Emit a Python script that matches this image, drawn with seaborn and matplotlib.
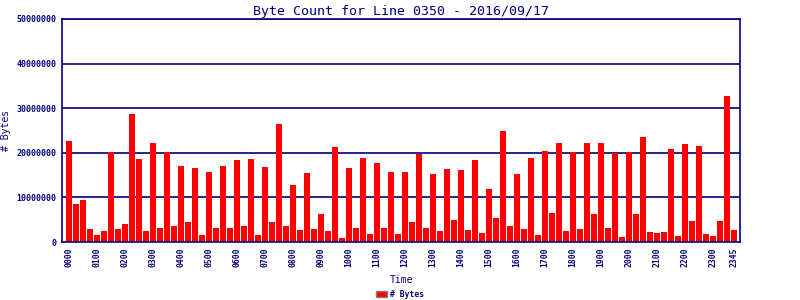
import matplotlib
matplotlib.use("Agg")
import matplotlib.pyplot as plt
import seaborn as sns
import pandas as pd
import numpy as np
from matplotlib.patches import Patch

# ---- data ----
times = [f"{h:02d}{m:02d}" for h in range(24) for m in (0, 15, 30, 45)]
byte_counts_m = [
    22.6, 8.6, 9.5, 3.0, 1.65, 2.55, 20.1, 3.0, 4.1, 28.7, 18.6, 2.55,
    22.2, 3.2, 20.1, 3.5, 17.0, 4.6, 16.5, 1.65, 15.6, 3.2, 17.0, 3.2,
    18.3, 3.5, 18.6, 1.65, 16.8, 4.4, 26.5, 3.7, 12.7, 2.8, 15.4, 3.0,
    6.4, 2.55, 21.3, 1.0, 16.5, 3.2, 18.8, 1.9, 17.7, 3.2, 15.6, 1.9,
    15.6, 4.6, 19.7, 3.2, 15.2, 2.55, 16.3, 5.0, 16.1, 2.8, 18.3, 2.1,
    11.8, 5.3, 24.9, 3.5, 15.2, 3.0, 18.8, 1.65, 20.4, 6.6, 22.2, 2.55,
    20.2, 3.0, 22.2, 6.2, 22.2, 3.2, 19.9, 1.2, 20.2, 6.2, 23.5, 2.3,
    2.1, 2.3, 20.8, 1.4, 22.0, 4.8, 21.5, 1.9, 1.4, 4.8, 32.8, 2.8,
]
byte_counts = [v * 1e6 for v in byte_counts_m]
tick_labels = [f"{h:02d}00" for h in range(24)] + ["2345"]
y_ticks = [0, 10000000, 20000000, 30000000, 40000000, 50000000]
title = "Byte Count for Line 0350 - 2016/09/17"

df = pd.DataFrame({"Time": times, "Bytes": byte_counts})

NAVY = "#000080"
sns.set_style("white")
plt.rcParams["font.family"] = ["DejaVu Sans Mono", "DejaVu Sans"]

fig = plt.figure(figsize=(8, 3), dpi=100)
ax = fig.add_axes([0.0775, 0.193, 0.8475, 0.744])

sns.barplot(data=df, x="Time", y="Bytes", order=times, color="#ff0000",
            saturation=1, width=0.85, ax=ax, linewidth=0)

ax.set_xlim(-1.0, 95.86)
ax.set_ylim(0, 50000000)

tick_pos = [times.index(t) for t in tick_labels]
ax.set_xticks(tick_pos)
ax.set_xticklabels(tick_labels, rotation=90, fontsize=5.8, color=NAVY, fontweight="bold")
ax.set_yticks(y_ticks)
ax.set_yticklabels([str(v) for v in y_ticks], fontsize=6, color=NAVY, fontweight="bold")
ax.tick_params(axis="both", length=0, pad=4)

for v in y_ticks[1:]:
    ax.axhline(v, color=NAVY, linewidth=1.2, zorder=0.5)

for s in ["left", "right", "bottom", "top"]:
    ax.spines[s].set_color(NAVY)
    ax.spines[s].set_linewidth(1.2)

ax.set_xlabel("Time", fontsize=7, color=NAVY, labelpad=6)
ax.set_ylabel("# Bytes", fontsize=7, color=NAVY, labelpad=4)
ax.set_title(title, fontsize=9.5, color=NAVY, pad=3)

handle = Patch(facecolor="#ff0000", edgecolor="#808080", linewidth=1)
fig.legend([handle], ["# Bytes"], loc="lower center", bbox_to_anchor=(0.5, -0.02),
           frameon=False, prop={"size": 5.8, "weight": "bold"}, labelcolor=NAVY,
           handlelength=1.3, handleheight=0.9, handletextpad=0.4)

fig.savefig("out.png", dpi=100)
